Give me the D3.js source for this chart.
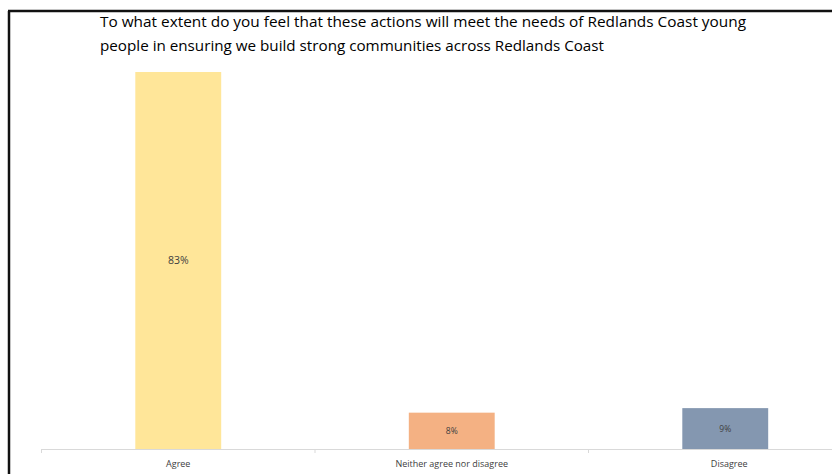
<!DOCTYPE html>
<html><head><meta charset="utf-8">
<script src="https://cdn.jsdelivr.net/npm/d3@7"></script>
<style>body{margin:0;background:#fff}svg{display:block}</style>
</head><body>
<script>
const categories = ["Agree", "Neither agree nor disagree", "Disagree"];
const values = [83, 8, 9];
const valueLabels = ["83%", "8%", "9%"];
const colors = ["#FFE699", "#F4B183", "#8497B0"];
const titleLines = ["To what extent do you feel that these actions will meet the needs of Redlands Coast young",
                    "people in ensuring we build strong communities across Redlands Coast"];

const W = 832, H = 474;
const svg = d3.select("body").append("svg").attr("width", W).attr("height", H);
svg.append("rect").attr("width", W).attr("height", H).attr("fill", "#fff");

// frame
svg.append("line").attr("x1", 9).attr("x2", 9).attr("y1", 11).attr("y2", H).attr("stroke", "#111").attr("stroke-width", 2.5);
svg.append("line").attr("x1", 8).attr("x2", W).attr("y1", 11).attr("y2", 11).attr("stroke", "#111").attr("stroke-width", 2.5);

// title
const tl = [646, 504];
svg.selectAll("text.title").data(titleLines).join("text")
  .attr("class", "title")
  .attr("x", 100).attr("y", (d, i) => 27 + i * 24)
  .attr("font-family", "Open Sans, sans-serif").attr("font-size", 14.5).attr("fill", "#000")
  .attr("textLength", (d, i) => tl[i]).attr("lengthAdjust", "spacingAndGlyphs")
  .text(d => d);

const x0 = 41.5, step = 273.5;
const x = d3.scaleBand().domain(categories).range([x0, x0 + step * 3]).paddingInner(0.686).paddingOuter(0.343);
const y = d3.scaleLinear().domain([0, 83]).range([449, 72]);

// axis
const axis = d3.axisBottom(x).tickSize(0).tickFormat("");
const gA = svg.append("g").attr("transform", "translate(0,449)").call(axis);
gA.select(".domain").attr("stroke", "#d9d9d9").attr("stroke-width", 1.2);
// category boundary ticks
svg.selectAll("line.tk").data(d3.range(4)).join("line")
  .attr("x1", i => x0 + step * i).attr("x2", i => x0 + step * i)
  .attr("y1", 449).attr("y2", 453).attr("stroke", "#d9d9d9");

svg.selectAll("rect.bar").data(values).join("rect")
  .attr("class", "bar")
  .attr("x", (d, i) => x(categories[i])).attr("width", x.bandwidth())
  .attr("y", d => y(d)).attr("height", d => y(0) - y(d))
  .attr("fill", (d, i) => colors[i]);

svg.selectAll("text.vl").data(values).join("text")
  .attr("class", "vl")
  .attr("x", (d, i) => x(categories[i]) + x.bandwidth() / 2)
  .attr("y", d => (y(d) + y(0)) / 2 + 3.5)
  .attr("text-anchor", "middle")
  .attr("font-family", "Open Sans, sans-serif")
  .attr("font-size", (d, i) => i === 0 ? 10.5 : 8.5)
  .attr("fill", "#404040")
  .text((d, i) => valueLabels[i]);

svg.selectAll("text.cat").data(categories).join("text")
  .attr("class", "cat")
  .attr("x", (d, i) => x(d) + x.bandwidth() / 2 + (i === 2 ? 4 : 0))
  .attr("y", 467)
  .attr("text-anchor", "middle")
  .attr("font-family", "Open Sans, sans-serif")
  .attr("font-size", 9)
  .attr("fill", "#404040")
  .text(d => d);
</script>
</body></html>
